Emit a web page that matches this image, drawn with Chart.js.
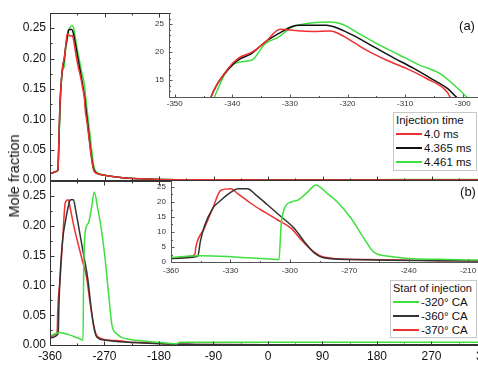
<!DOCTYPE html>
<html>
<head>
<meta charset="utf-8">
<script src="https://cdn.jsdelivr.net/npm/chart.js@4.4.1/dist/chart.umd.min.js"></script>
<style>
  html, body { margin: 0; padding: 0; background: #fff; overflow: hidden; }
  #fig { position: relative; width: 478px; height: 366px; overflow: hidden; background: #fff;
         font-family: "Liberation Sans", Arial, sans-serif; color: #111; }
  .box { position: absolute; }
  .legend { position: absolute; border: 1px solid #c8c8c8; background: #fff; font-size: 11.5px; box-sizing: border-box; padding-left: 2px; }
  .legend div { height: 14px; line-height: 14px; white-space: nowrap; }
  .sw { display: inline-block; width: 26px; height: 2px; vertical-align: middle; margin-right: 2px; margin-top: -2px; }
  .tag { position: absolute; font-size: 13px; transform: translate(-50%, -50%); }
  #ytitle { position: absolute; left: 14px; top: 176px; font-size: 14.5px; white-space: nowrap;
            transform: translate(-50%, -50%) rotate(-90deg); }
</style>
</head>
<body>
<div id="fig">
  <div class="box" style="left:0;top:0;width:500px;height:193px"><canvas id="mainTop"></canvas></div>
  <div class="box" style="left:0;top:170px;width:500px;height:196px"><canvas id="mainBottom"></canvas></div>
  <div class="box" style="left:140px;top:0;width:360px;height:115px"><canvas id="insetTop"></canvas></div>
  <div class="box" style="left:140px;top:170px;width:360px;height:115px"><canvas id="insetBottom"></canvas></div>

  <div class="legend" style="left:393px;top:112px;width:84px;height:59px">
    <div>Injection time</div>
    <div><span class="sw" style="background:#ee3030"></span>4.0 ms</div>
    <div><span class="sw" style="background:#111"></span>4.365 ms</div>
    <div><span class="sw" style="background:#3ee03e"></span>4.461 ms</div>
  </div>
  <div class="legend" style="left:390px;top:280px;width:87px;height:58px">
    <div style="font-size:11px">Start of injection</div>
    <div><span class="sw" style="background:#3ee03e"></span>-320° CA</div>
    <div><span class="sw" style="background:#333"></span>-360° CA</div>
    <div><span class="sw" style="background:#ee3030"></span>-370° CA</div>
  </div>
  <div class="tag" style="left:467px;top:25px">(a)</div>
  <div class="tag" style="left:468px;top:191px">(b)</div>
  <div id="ytitle">Mole fraction</div>
</div>

<script>
// (a) injection time, crank angle vs mole fraction
const topAngles40 = [-360, -355, -350, -347, -346, -345, -343.7, -340.8, -339, -336.6, -334.3, -331.7, -329.6, -326, -323, -321.5, -319, -316.8, -313.3, -309.8, -306.3, -302.7, -302.2, -299, -296, -293, -290, -288, -285, -280, -270, -250, -230, -210, -180, -150, -100, 0, 360];
const top40 = [0.010, 0.012, 0.014, 0.016, 0.04, 0.075, 0.12, 0.17, 0.189, 0.200, 0.218, 0.241, 0.239, 0.237, 0.238, 0.233, 0.218, 0.204, 0.186, 0.171, 0.153, 0.129, 0.120, 0.096, 0.072, 0.048, 0.026, 0.016, 0.012, 0.010, 0.008, 0.005, 0.003, 0.002, 0.001, 0.0005, 0.0003, 0.0002, 0.0002];

const topAngles4365 = [-360, -355, -350, -347, -346, -345, -343.7, -342.8, -340.8, -339, -336.6, -334.3, -332, -329.6, -328.4, -323.7, -321.5, -319, -315.5, -312, -308.5, -305, -302.6, -301.1, -298, -295, -292, -289, -287, -284, -280, -270, -250, -230, -210, -180, -150, -100, 0, 360];
const top4365 = [0.010, 0.012, 0.014, 0.016, 0.04, 0.075, 0.12, 0.14, 0.168, 0.186, 0.198, 0.218, 0.233, 0.246, 0.248, 0.248, 0.242, 0.230, 0.210, 0.190, 0.171, 0.150, 0.135, 0.120, 0.095, 0.068, 0.042, 0.023, 0.016, 0.012, 0.010, 0.008, 0.005, 0.003, 0.002, 0.001, 0.0005, 0.0003, 0.0002, 0.0002];

const topAngles4461 = [-360, -355, -350, -347, -346, -345, -343.1, -340.8, -338.4, -336.6, -334.3, -332, -329.6, -327.3, -323.2, -320.9, -318, -314.5, -311, -307.5, -304, -300.5, -299.3, -297, -294, -291, -288, -286, -283, -280, -270, -250, -230, -210, -180, -150, -100, 0, 180, 270, 360];
const top4461 = [0.010, 0.012, 0.014, 0.016, 0.035, 0.07, 0.12, 0.17, 0.183, 0.186, 0.215, 0.227, 0.245, 0.251, 0.254, 0.250, 0.233, 0.213, 0.195, 0.177, 0.162, 0.132, 0.120, 0.100, 0.075, 0.048, 0.025, 0.017, 0.013, 0.011, 0.008, 0.005, 0.003, 0.002, 0.001, 0.0005, 0.0003, 0.0002, 0.0005, 0.001, 0.001];

// (b) start of injection
const botAngles320 = [-360, -344.8, -328, -315, -310, -305.5, -304.4, -302.8, -299.3, -296, -291, -286.9, -281, -276, -269, -262.6, -257.6, -249, -240, -225, -210, -190, -165, -150, -146, -100, 0, 180, 360];
const bot320 = [0.015, 0.021, 0.017, 0.012, 0.010, 0.008, 0.123, 0.178, 0.200, 0.206, 0.233, 0.257, 0.228, 0.200, 0.145, 0.079, 0.033, 0.018, 0.012, 0.009, 0.007, 0.005, 0.003, 0.002, 0.0045, 0.0045, 0.0045, 0.0045, 0.0045];

const botAngles360 = [-360, -346.5, -345.2, -343.2, -339, -334.8, -329.7, -326.3, -321.3, -317.9, -311.2, -304.4, -297.7, -292.7, -287.6, -282.5, -269, -250, -220, -180, -120, 0, 360];
const bot360 = [0.012, 0.019, 0.068, 0.118, 0.178, 0.206, 0.233, 0.244, 0.244, 0.228, 0.190, 0.151, 0.112, 0.068, 0.030, 0.013, 0.008, 0.006, 0.004, 0.002, 0.001, 0.0005, 0.0005];

const botAngles370 = [-360, -350, -348, -347.4, -343.2, -339, -334.8, -329.7, -326.3, -319.6, -312.9, -306.1, -299.3, -294.3, -289.3, -284.2, -275.8, -260.7, -245, -218.7, -195, -165, -120, 0, 360];
const bot370 = [0.012, 0.019, 0.025, 0.052, 0.112, 0.178, 0.239, 0.244, 0.228, 0.195, 0.167, 0.140, 0.112, 0.074, 0.041, 0.019, 0.011, 0.008, 0.007, 0.004, 0.004, 0.002, 0.001, 0.0005, 0.0005];

// inset tick labels (mole fraction x 100)
const insetTopYTicks = [15, 20, 25];
const insetBottomYTicks = [0, 5, 10, 15, 20, 25];

const RED = '#ee3030', BLACK = '#111', GREY = '#333', GREEN = '#3ee03e';

Chart.defaults.font.family = '"Liberation Sans", Arial, sans-serif';
Chart.defaults.color = '#111';

// frame with inward ticks, like the original plotting program
const framePlugin = {
    id: 'frame',
    beforeDraw(chart, args, o) {
        if (!o.fill) return;
        const a = chart.chartArea;
        chart.ctx.save();
        chart.ctx.fillStyle = o.fill;
        chart.ctx.fillRect(a.left, a.top, a.right - a.left, a.bottom - a.top);
        chart.ctx.restore();
    },
    afterDatasetsDraw(chart, args, o) {
        const {ctx, chartArea: a} = chart;
        const xs = chart.scales.x, ys = chart.scales.y;
        const len = o.len || 4;
        ctx.save();
        ctx.strokeStyle = o.color || '#333';
        ctx.lineWidth = 1;
        ctx.beginPath();
        const L = Math.round(a.left) + 0.5, B = Math.round(a.bottom) + 0.5, T = Math.round(a.top) + 0.5;
        ctx.moveTo(L, a.top);
        ctx.lineTo(L, B);
        ctx.lineTo(a.right, B);
        if (o.topLine) { ctx.moveTo(L, T); ctx.lineTo(a.right, T); }

        const majX = xs.ticks.map(t => t.value);
        for (let v = Math.ceil(xs.min / o.xMinor) * o.xMinor; v <= xs.max + 1e-9; v += o.xMinor) {
            const l = majX.some(m => Math.abs(m - v) < 1e-6) ? len : len / 2;
            const px = Math.round(xs.getPixelForValue(v)) + 0.5;
            ctx.moveTo(px, B); ctx.lineTo(px, B - l);
            if (o.topTicks) { ctx.moveTo(px, T); ctx.lineTo(px, T + l); }
        }
        const majY = ys.ticks.map(t => t.value);
        for (let v = Math.ceil(ys.min / o.yMinor) * o.yMinor; v <= ys.max + 1e-9; v += o.yMinor) {
            const l = majY.some(m => Math.abs(m - v) < 1e-6) ? len : len / 2;
            const py = Math.round(ys.getPixelForValue(v)) + 0.5;
            ctx.moveTo(L, py); ctx.lineTo(L + l, py);
        }
        ctx.stroke();
        ctx.restore();
    },
};
Chart.register(framePlugin);

const toPoints = (angles, values, k) => angles.map((x, i) => ({x: x, y: values[i] * k}));

const series = (label, color, angles, values, k) => ({
    label: label,
    data: toPoints(angles, values, k),
    borderColor: color,
    borderWidth: 1.5,
    pointRadius: 0,
    fill: false,
    cubicInterpolationMode: 'monotone',
});

const topSets = (k) => [
    series('4.0 ms', RED, topAngles40, top40, k),
    series('4.365 ms', BLACK, topAngles4365, top4365, k),
    series('4.461 ms', GREEN, topAngles4461, top4461, k),
];
const botSets = (k) => [
    series('-320° CA', GREEN, botAngles320, bot320, k),
    series('-360° CA', GREY, botAngles360, bot360, k),
    series('-370° CA', RED, botAngles370, bot370, k),
];

const makeChart = (id, datasets, cfg) => new Chart(document.getElementById(id), {
    type: 'line',
    data: {datasets: datasets},
    options: {
        responsive: true,
        maintainAspectRatio: false,
        animation: false,
        layout: {padding: cfg.padding},
        plugins: {
            legend: {display: false},
            tooltip: {enabled: false},
            frame: cfg.frame,
        },
        scales: {
            x: {
                type: 'linear',
                min: cfg.x[0], max: cfg.x[1],
                grid: {display: false, drawTicks: false},
                border: {display: false},
                ticks: {
                    display: cfg.xLabels,
                    stepSize: cfg.x[2],
                    includeBounds: false,
                    autoSkip: false,
                    maxRotation: 0,
                    padding: cfg.xPad,
                    font: {size: cfg.font},
                    color: cfg.tickColor,
                },
                afterFit: (s) => { s.height = cfg.xHeight; },
            },
            y: {
                min: cfg.y[0], max: cfg.y[1],
                grid: {display: false, drawTicks: false},
                border: {display: false},
                ticks: {
                    stepSize: cfg.y[2],
                    includeBounds: false,
                    padding: cfg.yPad,
                    font: {size: cfg.font},
                    color: cfg.tickColor,
                    callback: (v) => cfg.fmt(v),
                },
                afterBuildTicks: (s) => {
                    if (cfg.yTicks) s.ticks = cfg.yTicks.map(v => ({value: v}));
                },
                afterFit: (s) => { s.width = cfg.yWidth; },
            },
        },
    },
});

makeChart('mainTop', topSets(1), {
    padding: {left: 0, top: 13, right: 14, bottom: 0},
    x: [-360, 360, 90], y: [0, 0.275, 0.05],
    xLabels: false, xPad: 0, xHeight: 13, yWidth: 50, yPad: 4, font: 12, tickColor: '#111',
    fmt: (v) => v.toFixed(2),
    frame: {color: '#333', len: 4, xMinor: 45, yMinor: 0.025, topLine: true, topTicks: true},
});

makeChart('mainBottom', botSets(1), {
    padding: {left: 0, top: 11, right: 14, bottom: 0},
    x: [-360, 360, 90], y: [0, 0.275, 0.05],
    xLabels: true, xPad: 4, xHeight: 21, yWidth: 50, yPad: 4, font: 12, tickColor: '#111',
    fmt: (v) => v.toFixed(2),
    frame: {color: '#333', len: 4, xMinor: 45, yMinor: 0.025, topLine: true, topTicks: true},
});

makeChart('insetTop', topSets(100), {
    padding: {left: 0, top: 13, right: 20, bottom: 0},
    x: [-351, -297, 10], y: [12, 27, 5], yTicks: insetTopYTicks,
    xLabels: true, xPad: 2, xHeight: 18, yWidth: 29, yPad: 5, font: 8, tickColor: '#333',
    fmt: (v) => String(Math.round(v)),
    frame: {color: '#555', len: 3, xMinor: 5, yMinor: 1, fill: '#fff'},
});

makeChart('insetBottom', botSets(100), {
    padding: {left: 0, top: 11, right: 20, bottom: 0},
    x: [-360, -204, 30], y: [0, 27, 5], yTicks: insetBottomYTicks,
    xLabels: true, xPad: 4, xHeight: 23, yWidth: 31, yPad: 5, font: 8, tickColor: '#333',
    fmt: (v) => String(Math.round(v)),
    frame: {color: '#555', len: 3, xMinor: 15, yMinor: 2.5, fill: '#fff'},
});
</script>
</body>
</html>
